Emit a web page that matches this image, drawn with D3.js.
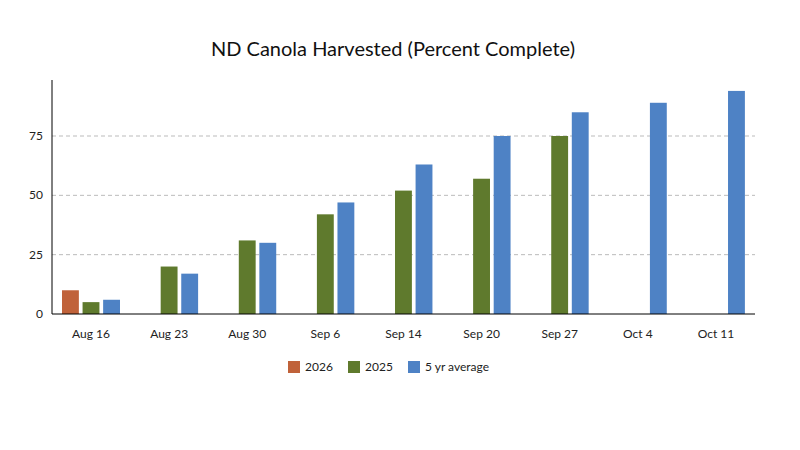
<!DOCTYPE html>
<html><head><meta charset="utf-8">
<script src="https://cdn.jsdelivr.net/npm/d3@7"></script>
<style>body{margin:0;background:#fff;font-family:Lato,sans-serif}</style>
</head><body>
<script>
// chart data
var weeks = ["Aug 16","Aug 23","Aug 30","Sep 6","Sep 14","Sep 20","Sep 27","Oct 4","Oct 11"];
var series = ["2026","2025","5 yr average"];
var v2026 = [10,null,null,null,null,null,null,null,null];
var v2025 = [5,20,31,42,52,57,75,null,null];
var vAvg = [6,17,30,47,63,75,85,89,94];
var yTicks = [0,25,50,75];
var colors = ["#c0623a","#5f7a2d","#4e82c5"];

var width = 800, height = 450;
var svg = d3.select("body").append("svg").attr("width", width).attr("height", height);

var x = d3.scaleBand().domain(weeks).range([52, 755]);
var inner = d3.scaleBand().domain(series).range([10, 68]).paddingInner(0.18);
var y = d3.scaleLinear().domain([0, 98.6]).range([314, 80]);

// grid
svg.selectAll(".grid").data(yTicks.slice(1)).enter().append("line")
    .attr("x1", 52).attr("x2", 755)
    .attr("y1", function(d){ return y(d); }).attr("y2", function(d){ return y(d); })
    .attr("stroke", "#bbb").attr("stroke-dasharray", "4,3");

// bars
var all = [v2026, v2025, vAvg];
series.forEach(function(s, i){
    svg.selectAll(".bar" + i).data(weeks).enter().filter(function(d, j){ return all[i][j] != null; })
        .append("rect")
        .attr("x", function(d){ return x(d) + inner(s); })
        .attr("width", inner.bandwidth())
        .attr("y", function(d){ return y(all[i][weeks.indexOf(d)]); })
        .attr("height", function(d){ return 314 - y(all[i][weeks.indexOf(d)]); })
        .attr("fill", colors[i]);
});

// axes
svg.append("line").attr("x1", 52).attr("x2", 52).attr("y1", 80).attr("y2", 314).attr("stroke", "#000");
svg.append("line").attr("x1", 52).attr("x2", 755).attr("y1", 314).attr("y2", 314).attr("stroke", "#000");
svg.selectAll(".yl").data(yTicks).enter().append("text")
    .attr("x", 43).attr("y", function(d){ return y(d) + 4; })
    .attr("text-anchor", "end").attr("font-size", 12).attr("fill", "#222").text(function(d){ return d; });
svg.selectAll(".xl").data(weeks).enter().append("text")
    .attr("x", function(d){ return x(d) + x.bandwidth()/2; }).attr("y", 338)
    .attr("text-anchor", "middle").attr("font-size", 12).attr("fill", "#222").text(function(d){ return d; });

svg.append("text").attr("x", 393).attr("y", 56).attr("text-anchor", "middle")
    .attr("font-size", 20).attr("fill", "#111").text("ND Canola Harvested (Percent Complete)");

// legend
var lx = [288, 348, 408];
series.forEach(function(s, i){
    svg.append("rect").attr("x", lx[i]).attr("y", 361).attr("width", 12).attr("height", 12).attr("fill", colors[i]);
    svg.append("text").attr("x", lx[i] + 17).attr("y", 371).attr("font-size", 12).attr("fill", "#222").text(s);
});
</script>
</body></html>
